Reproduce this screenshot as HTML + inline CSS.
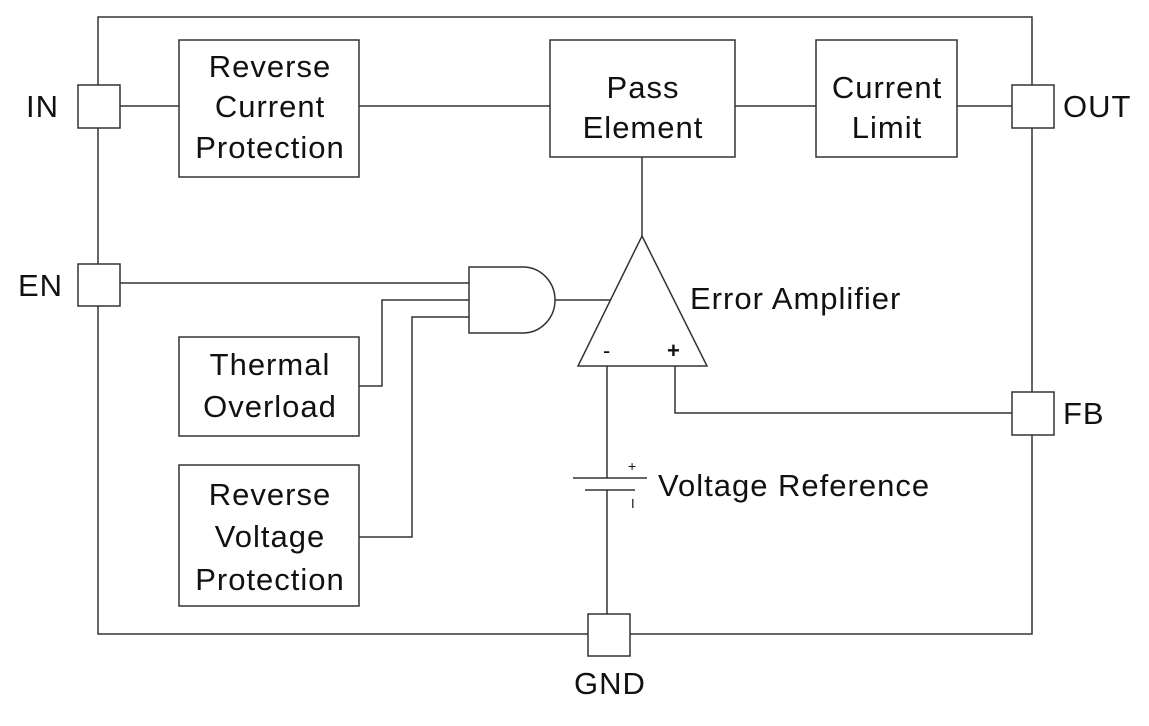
<!DOCTYPE html>
<html><head><style>
body{margin:0;background:#fff;}
svg text{font-family:"Liberation Sans",sans-serif;font-size:31px;fill:#111;letter-spacing:1px;}
</style></head><body>
<svg width="1149" height="721" viewBox="0 0 1149 721" xmlns="http://www.w3.org/2000/svg">
<g fill="none" stroke="#333" stroke-width="1.5">
<rect x="98" y="17" width="934" height="617" fill="#fff"/>
<line x1="120" y1="106" x2="179" y2="106"/>
<line x1="359" y1="106" x2="550" y2="106"/>
<line x1="735" y1="106" x2="816" y2="106"/>
<line x1="957" y1="106" x2="1012" y2="106"/>
<line x1="642" y1="157" x2="642" y2="236"/>
<line x1="120" y1="283" x2="469" y2="283"/>
<polyline points="359,386 382,386 382,300 469,300"/>
<polyline points="359,537 412,537 412,317 469,317"/>
<path d="M469,267 H523 A32,33 0 0 1 523,333 H469 Z" fill="#fff"/>
<line x1="555" y1="300" x2="610" y2="300"/>
<polygon points="642,236 707,366 578,366" fill="#fff"/>
<line x1="607" y1="366" x2="607" y2="478"/>
<line x1="607" y1="490" x2="607" y2="614"/>
<line x1="573" y1="478" x2="647" y2="478"/>
<line x1="585" y1="490" x2="635" y2="490"/>
<polyline points="675,366 675,413 1012,413"/>
<rect x="78" y="85" width="42" height="43" fill="#fff"/>
<rect x="78" y="264" width="42" height="42" fill="#fff"/>
<rect x="1012" y="85" width="42" height="43" fill="#fff"/>
<rect x="1012" y="392" width="42" height="43" fill="#fff"/>
<rect x="588" y="614" width="42" height="42" fill="#fff"/>
<rect x="179" y="40" width="180" height="137" fill="#fff"/>
<rect x="550" y="40" width="185" height="117" fill="#fff"/>
<rect x="816" y="40" width="141" height="117" fill="#fff"/>
<rect x="179" y="337" width="180" height="99" fill="#fff"/>
<rect x="179" y="465" width="180" height="141" fill="#fff"/>
</g>
<g text-anchor="middle">
<text x="270" y="77">Reverse</text>
<text x="270" y="117">Current</text>
<text x="270" y="158">Protection</text>
<text x="643" y="98">Pass</text>
<text x="643" y="138">Element</text>
<text x="887" y="98">Current</text>
<text x="887" y="138">Limit</text>
<text x="270" y="375">Thermal</text>
<text x="270" y="417">Overload</text>
<text x="270" y="505">Reverse</text>
<text x="270" y="547">Voltage</text>
<text x="270" y="590">Protection</text>
<text x="610" y="694">GND</text>
</g>
<text x="26" y="117">IN</text>
<text x="18" y="296">EN</text>
<text x="1063" y="117">OUT</text>
<text x="1063" y="424">FB</text>
<text x="690" y="309">Error Amplifier</text>
<text x="658" y="496">Voltage Reference</text>
<text x="603" y="358" style="font-size:22px">-</text>
<text x="667" y="358" style="font-size:22px;font-weight:bold">+</text>
<text x="628" y="471" style="font-size:14px">+</text>
<text x="631" y="508" style="font-size:13px">I</text>
</svg>
</body></html>
